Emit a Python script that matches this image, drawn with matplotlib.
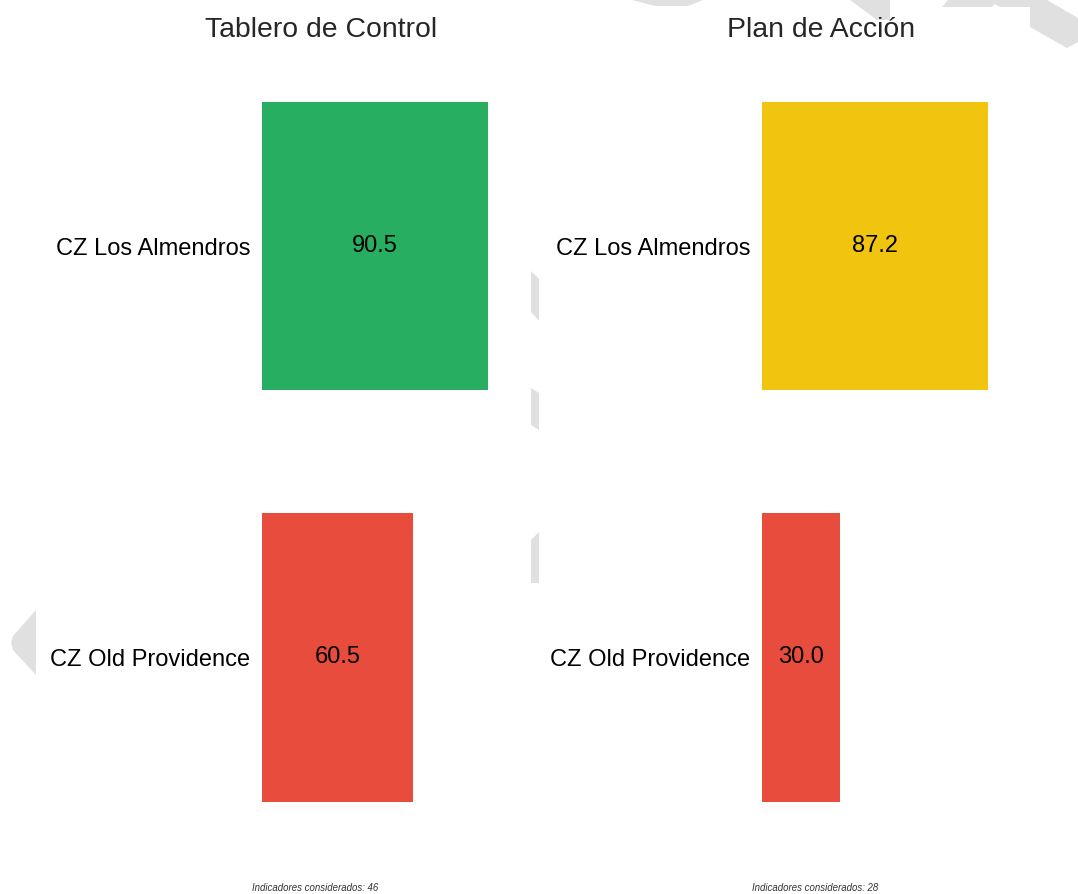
import matplotlib
matplotlib.use("Agg")
import matplotlib.pyplot as plt
from matplotlib.patches import Polygon

plt.rcParams['font.family'] = ['Liberation Sans', 'DejaVu Sans']

# ---- data ----
categories = ["CZ Los Almendros", "CZ Old Providence"]
tablero_values = [90.5, 60.5]
plan_values = [87.2, 30.0]
tablero_colors = ["#27ae60", "#e74c3c"]
plan_colors = ["#f1c40f", "#e74c3c"]
panel_titles = ["Tablero de Control", "Plan de Acción"]
footers = ["Indicadores considerados: 46", "Indicadores considerados: 28"]

W, H = 1078, 894
fig = plt.figure(figsize=(W / 100, H / 100), dpi=100)
fig.patch.set_facecolor("white")

def fx(x):
    return x / W

def fy(y):
    return 1 - y / H

# ---- faint background watermark fragments ----
wm_color = "#e0e0e0"
wm_shapes = [
    [(632, 0), (703, 0), (688, 6), (655, 6)],
    [(850, 0), (890, 0), (890, 20), (877, 20)],
    [(942, 7), (948, 0), (1047, 0), (1078, 18), (1078, 42), (1067, 48),
     (1030, 27), (1030, 7), (1000, 7), (995, 4), (992, 7)],
    [(531, 271), (539, 279), (539, 321), (531, 312)],
    [(531, 388), (539, 393), (539, 430), (531, 425)],
    [(531, 540), (539, 532), (539, 583), (531, 583)],
    [(36, 610), (13, 636), (11, 643), (13, 650), (36, 675)],
]
for pts in wm_shapes:
    fig.patches.append(Polygon([(fx(x), fy(y)) for x, y in pts], closed=True,
                               transform=fig.transFigure, facecolor=wm_color,
                               edgecolor="none", zorder=0))

# ---- panels ----
ax_w = 237
ax_top, ax_bot = 67, 836.5
panels = [
    (262, tablero_values, tablero_colors, 321.5, 315.5),
    (762, plan_values, plan_colors, 821, 815),
]

for i, (x0, vals, cols, title_x, foot_x) in enumerate(panels):
    ax = fig.add_axes([fx(x0), fy(ax_bot), ax_w / W, (ax_bot - ax_top) / H])
    ax.set_facecolor("none")
    ypos = list(range(len(categories)))
    ax.barh(ypos, vals, height=0.7, color=cols)
    ax.set_yticks(ypos)
    ax.set_yticklabels(categories, fontsize=17, color="black")
    ax.invert_yaxis()
    ax.set_xticks([])
    ax.tick_params(axis="y", length=0, pad=8.6)
    for s in ax.spines.values():
        s.set_visible(False)
    for y, v in zip(ypos, vals):
        ax.text(v / 2, y, f"{v:.1f}", ha="center", va="center",
                fontsize=17, color="black")
    fig.text(fx(title_x), fy(30), panel_titles[i], ha="center", va="center",
             fontsize=20.4, color="#262626")
    fig.text(fx(foot_x), fy(888), footers[i], ha="center", va="center",
             fontsize=6.9, style="italic", color="#333333")

fig.savefig("out.png", dpi=100, facecolor="white")
